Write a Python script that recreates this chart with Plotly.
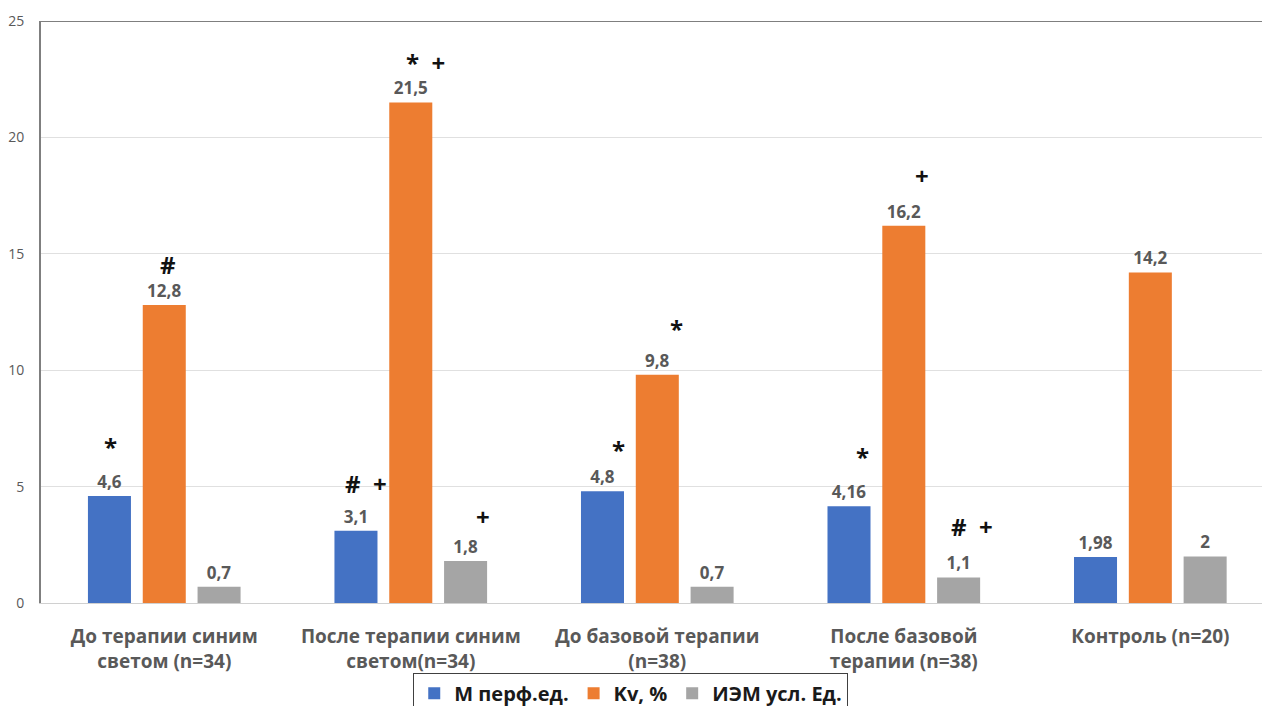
import plotly.graph_objects as go

# Groups and measured values
categories = [
    "До терапии синим<br>светом (n=34)",
    "После терапии синим<br>светом(n=34)",
    "До базовой терапии<br>(n=38)",
    "После базовой<br>терапии (n=38)",
    "Контроль (n=20)",
]
series_names = ["М перф.ед.", "Kv, %", "ИЭМ усл. Ед."]
m_perf = [4.6, 3.1, 4.8, 4.16, 1.98]
kv = [12.8, 21.5, 9.8, 16.2, 14.2]
iem = [0.7, 1.8, 0.7, 1.1, 2]
colors = ["#4472C4", "#ED7D31", "#A5A5A5"]

# Significance marks per series and group
marks_m = ["*", "#  +", "*", "*", ""]
marks_kv = ["#", "*  +", "*", "+", ""]
marks_iem = ["", "+", "", "#  +", ""]

yticks = [0, 5, 10, 15, 20, 25]

FONT = "Open Sans"
GREY_TEXT = "#595959"


def fmt(v):
    return ("%g" % v).replace(".", ",")


fig = go.Figure()
all_series = [m_perf, kv, iem]
for name, vals, col in zip(series_names, all_series, colors):
    fig.add_trace(go.Bar(
        name=name,
        x=categories,
        y=vals,
        marker=dict(color=col, line=dict(width=0)),
        text=[fmt(v) for v in vals],
        textposition="outside",
        textfont=dict(family=FONT, size=17, color=GREY_TEXT, weight="bold"),
        cliponaxis=False,
    ))

# Significance symbols: (series index, per-group marks, x pixel nudge, y pixel lift)
mark_specs = [
    (0, marks_m, [1, 10, 16, 13, 0], [49, 47, 42, 50, 0]),
    (1, marks_kv, [4, 15, 19, 18, 0], [41, 40, 46, 50, 0]),
    (2, marks_iem, [0, 17, 0, 13, 0], [0, 45, 0, 51, 0]),
]
slot_px = 54.75
annotations = []
for s_idx, marks, dxs, dys in mark_specs:
    vals = all_series[s_idx]
    for g, (mk, dx, dy) in enumerate(zip(marks, dxs, dys)):
        if not mk:
            continue
        annotations.append(dict(
            x=categories[g], y=vals[g], xref="x", yref="y",
            text=mk, showarrow=False,
            xshift=(s_idx - 1) * slot_px + dx, yshift=dy,
            font=dict(family=FONT, size=24, color="#111111", weight="bold"),
        ))

fig.update_layout(
    width=1262, height=706,
    margin=dict(l=41, r=0, t=21, b=103, autoexpand=False),
    paper_bgcolor="white", plot_bgcolor="white",
    barmode="group", bargap=0.333, bargroupgap=0.215,
    separators=", ",
    font=dict(family=FONT),
    showlegend=True,
    legend=dict(
        orientation="h", x=0.483, xanchor="center", y=-0.12, yanchor="top",
        bordercolor="#404040", borderwidth=1,
        font=dict(family=FONT, size=20, color="#1a1a1a", weight="bold"),
        itemwidth=30, traceorder="normal",
    ),
    annotations=annotations,
    shapes=[dict(type="line", xref="paper", yref="y", x0=0, x1=1, y0=25, y1=25,
                 line=dict(color="#7f7f7f", width=2))],
)
fig.update_xaxes(
    range=[-0.5, 4.453], showgrid=False, showline=True, linecolor="#d0d0d0",
    linewidth=1, ticks="", ticklabelstandoff=16,
    tickfont=dict(family=FONT, size=19, color=GREY_TEXT, weight="bold"),
)
fig.update_yaxes(
    range=[0, 25], tickvals=yticks, showgrid=True, gridcolor="#e0e0e0",
    zeroline=False, showline=True, linecolor="#7f7f7f", linewidth=2,
    ticks="", ticklabelstandoff=12,
    tickfont=dict(family=FONT, size=14, color=GREY_TEXT),
)

fig.write_html("out.html")
